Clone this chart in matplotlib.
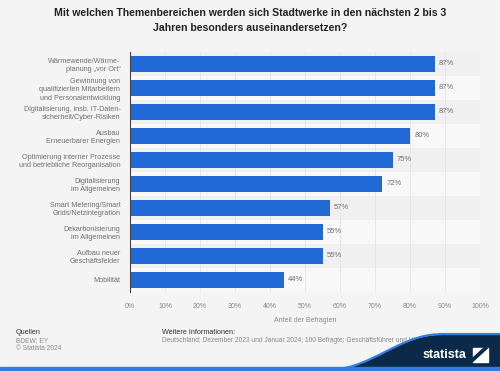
import numpy as np
import matplotlib
matplotlib.use("Agg")
from matplotlib import pyplot as plt
from matplotlib.patches import Polygon, Rectangle

# values (share of respondents, %)
categories = [
    "Wärmewende/Wärme-\nplanung „vor Ort“",
    "Gewinnung von\nqualifizierten Mitarbeitern\nund Personalentwicklung",
    "Digitalisierung, insb. IT-Daten-\nsicherheit/Cyber-Risiken",
    "Ausbau\nErneuerbarer Energien",
    "Optimierung interner Prozesse\nund betriebliche Reorganisation",
    "Digitalisierung\nim Allgemeinen",
    "Smart Metering/Smart\nGrids/Netzintegration",
    "Dekarbonisierung\nim Allgemeinen",
    "Aufbau neuer\nGeschäftsfelder",
    "Mobilität",
]
values = [87, 87, 87, 80, 75, 72, 57, 55, 55, 44]
xticks = [0, 10, 20, 30, 40, 50, 60, 70, 80, 90, 100]

plt.rcParams['font.family'] = ['Liberation Sans', 'DejaVu Sans']

bg = '#f4f4f4'
blue = '#2169d6'
grey = '#707070'

fig = plt.figure(figsize=(5, 3.71), dpi=100, facecolor=bg)
ax = fig.add_axes([0.26, 0.213, 0.70, 0.647])
ax.set_facecolor(bg)

y = np.arange(len(categories))
# alternating row stripes
for i in y:
    ax.axhspan(i - 0.5, i + 0.5, color='#f8f8f8' if i % 2 else '#f0f0f0', zorder=0, lw=0)

ax.barh(y, values, height=0.66, color=blue, zorder=3)
for i, v in zip(y, values):
    ax.text(v + 1.2, i, "{}%".format(v), va='center', ha='left', fontsize=5.5, color=grey)

ax.set_xlim(0, 100)
ax.set_ylim(len(categories) - 0.5, -0.5)
ax.set_yticks(y)
ax.set_yticklabels(categories, fontsize=5.25, color=grey, linespacing=1.3)
ax.set_xticks(xticks)
ax.set_xticklabels(["{}%".format(t) for t in xticks], fontsize=5, color='#888888')
ax.tick_params(axis='x', length=0, pad=8)
ax.tick_params(axis='y', length=0, pad=7)
ax.grid(axis='x', color='#e4e4e4', lw=0.6, zorder=1)
for s in ['top', 'right', 'bottom']:
    ax.spines[s].set_visible(False)
ax.spines['left'].set_color('#444444')
ax.spines['left'].set_linewidth(0.8)
ax.spines['left'].set_zorder(4)
ax.set_xlabel("Anteil der Befragten", fontsize=5, color='#888888', labelpad=5)

fig.text(0.5, 0.978, "Mit welchen Themenbereichen werden sich Stadtwerke in den nächsten 2 bis 3\nJahren besonders auseinandersetzen?",
         ha='center', va='top', fontsize=7.6, fontweight='bold', color='#222222', linespacing=1.6)

# footer
fig.text(0.032, 0.105, "Quellen", fontsize=5.2, color='#333333', va='center')
fig.text(0.032, 0.082, "BDEW; EY", fontsize=4.8, color='#888888', va='center')
fig.text(0.032, 0.060, "© Statista 2024", fontsize=4.8, color='#888888', va='center')
fig.text(0.324, 0.105, "Weitere Informationen:", fontsize=5.2, color='#333333', va='center')
fig.text(0.324, 0.082, "Deutschland; Dezember 2023 und Januar 2024; 100 Befragte; Geschäftsführer und Vorstände",
         fontsize=4.8, color='#888888', va='center')

# statista wave
t = np.linspace(0, 1, 60)
xs = 0.66 + 0.22 * t
ys = 0.0 + 0.095 * (0.5 - 0.5 * np.cos(np.pi * t))
pts = list(zip(xs, ys)) + [(1.0, 0.095), (1.0, 0.0)]
fig.patches.append(Polygon(pts, closed=True, transform=fig.transFigure, color='#0b2a4a', zorder=5))
fig.lines.append(plt.Line2D(xs, ys + 0.004, transform=fig.transFigure, color='#2f7de1', lw=1.5, zorder=6))
fig.lines.append(plt.Line2D([0.88, 1.0], [0.099, 0.099], transform=fig.transFigure, color='#2f7de1', lw=1.5, zorder=6))
fig.patches.append(Rectangle((0, 0), 1, 0.01, transform=fig.transFigure, color='#2f7de1', zorder=7))
fig.text(0.845, 0.043, "statista", fontsize=9, fontweight='bold', color='white', va='center', zorder=8)
fig.patches.append(Polygon([(0.945, 0.025), (0.975, 0.025), (0.975, 0.062), (0.945, 0.062)], closed=True,
                           transform=fig.transFigure, color='white', zorder=8))
fig.patches.append(Polygon([(0.945, 0.025), (0.975, 0.062), (0.968, 0.062), (0.945, 0.034)], closed=True,
                           transform=fig.transFigure, color='#0b2a4a', zorder=9))

fig.savefig("out.png", dpi=100, facecolor=bg)
